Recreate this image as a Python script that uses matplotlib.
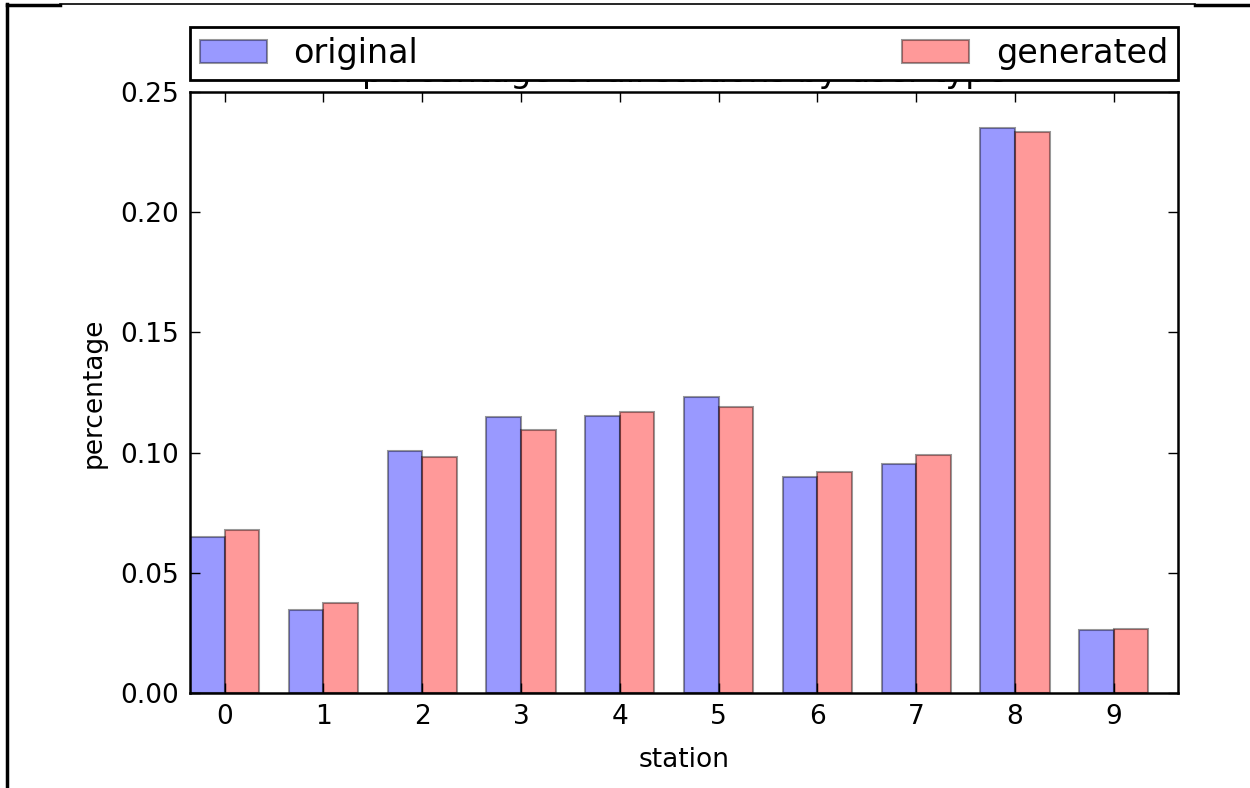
import numpy as np
import matplotlib
matplotlib.use("Agg")
import matplotlib.pyplot as plt
from matplotlib.lines import Line2D

stations = ["0", "1", "2", "3", "4", "5", "6", "7", "8", "9"]
original = [0.0650, 0.0346, 0.1008, 0.1150, 0.1154, 0.1233, 0.0900, 0.0954, 0.2350, 0.0263]
generated = [0.0678, 0.0375, 0.0983, 0.1092, 0.1167, 0.1190, 0.0920, 0.0988, 0.2333, 0.0267]

plt.rcParams['font.family'] = ['DejaVu Sans']

fig = plt.figure(figsize=(12.5, 7.88), dpi=100)
ax = fig.add_axes([0.152, 0.1206, 0.7904, 0.7626])

index = np.arange(len(stations))
bar_width = 0.35

ax.bar(index, original, bar_width, align='edge', color='b', alpha=0.4,
       edgecolor='k', linewidth=1.5, label='original')
ax.bar(index + bar_width, generated, bar_width, align='edge', color='r', alpha=0.4,
       edgecolor='k', linewidth=1.5, label='generated')

ax.set_xlim(0, 10)
ax.set_ylim(0, 0.25)
ax.set_xticks(index + bar_width)
ax.set_xticklabels(stations)
ax.set_yticks(np.arange(0, 0.251, 0.05))
ax.yaxis.set_major_formatter(matplotlib.ticker.FormatStrFormatter('%.2f'))

ax.tick_params(direction='in', top=True, right=True, length=7, width=1,
               labelsize=19)
ax.tick_params(axis='y', pad=8)
ax.tick_params(axis='x', pad=8)
for s in ax.spines.values():
    s.set_linewidth(1.8)

ax.set_xlabel('station', fontsize=19, labelpad=12)
ax.set_ylabel('percentage', fontsize=19, labelpad=10)
ax.set_title('percentage of all stations by user type', fontsize=24, pad=7)

leg = ax.legend(loc='lower left', bbox_to_anchor=(0, 1.02, 1, 0.102), mode='expand',
                ncol=2, borderaxespad=0, fontsize=24, fancybox=False, framealpha=1,
                handlelength=2.0, borderpad=0.3)
leg.get_frame().set_edgecolor('k')
leg.get_frame().set_linewidth(2)
leg.set_zorder(10)

# page frame lines around the picture
H = 788.0
W = 1250.0
fig.add_artist(Line2D([7 / W, 7 / W], [0, 1 - 4 / H], color='k', linewidth=2.5))
fig.add_artist(Line2D([7 / W, 60 / W], [1 - 5 / H, 1 - 5 / H], color='k', linewidth=2.5))
fig.add_artist(Line2D([60 / W, 1195 / W], [1 - 4 / H, 1 - 4 / H], color='k', linewidth=1.2))
fig.add_artist(Line2D([1195 / W, 1], [1 - 5 / H, 1 - 5 / H], color='k', linewidth=2.5))

fig.savefig('out.png', dpi=100)
